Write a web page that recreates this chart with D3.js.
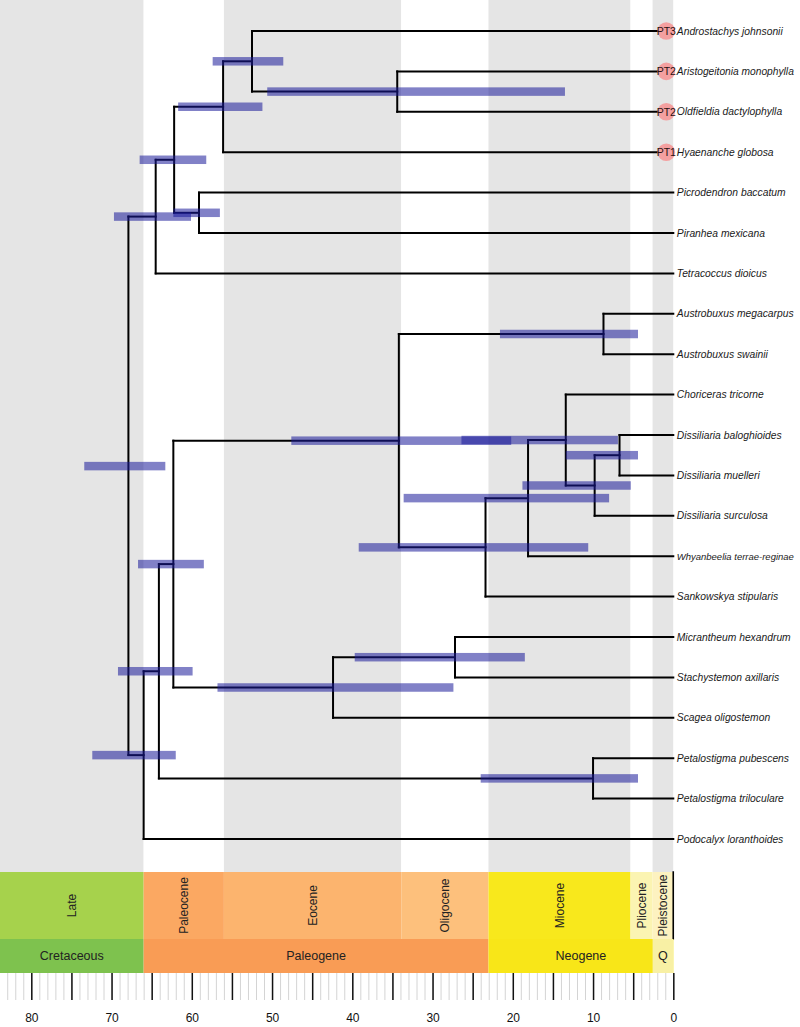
<!DOCTYPE html>
<html>
<head>
<meta charset="utf-8">
<script src="https://cdn.jsdelivr.net/npm/d3@7"></script>
<style>
  html, body { margin: 0; padding: 0; background: #ffffff; }
  svg { display: block; }
  text { font-family: "Liberation Sans", Arial, sans-serif; }
</style>
</head>
<body>
<div id="chart"></div>
<script>
// ---------------- DATA ----------------
const tipNames = [
  "Androstachys johnsonii", "Aristogeitonia monophylla", "Oldfieldia dactylophylla",
  "Hyaenanche globosa", "Picrodendron baccatum", "Piranhea mexicana", "Tetracoccus dioicus",
  "Austrobuxus megacarpus", "Austrobuxus swainii", "Choriceras tricorne",
  "Dissiliaria baloghioides", "Dissiliaria muelleri", "Dissiliaria surculosa",
  "Whyanbeelia terrae-reginae", "Sankowskya stipularis", "Micrantheum hexandrum",
  "Stachystemon axillaris", "Scagea oligostemon", "Petalostigma pubescens",
  "Petalostigma triloculare", "Podocalyx loranthoides"
];
const ptTips   = ["Androstachys johnsonii", "Aristogeitonia monophylla", "Oldfieldia dactylophylla", "Hyaenanche globosa"];
const ptLabels = ["PT3", "PT2", "PT2", "PT1"];

// internal nodes: name, children, age (Ma), 95% HPD (old, young)
const nodeNames = ["B","A","C","D","E","F","AUS","N1","N2","N3","N4","N5","N6","M1","M2","N7","P","N8","N9","R"];
const nodeChildren = [
  ["Aristogeitonia monophylla","Oldfieldia dactylophylla"],
  ["Androstachys johnsonii","B"],
  ["A","Hyaenanche globosa"],
  ["Picrodendron baccatum","Piranhea mexicana"],
  ["C","D"],
  ["E","Tetracoccus dioicus"],
  ["Austrobuxus megacarpus","Austrobuxus swainii"],
  ["Dissiliaria baloghioides","Dissiliaria muelleri"],
  ["N1","Dissiliaria surculosa"],
  ["Choriceras tricorne","N2"],
  ["N3","Whyanbeelia terrae-reginae"],
  ["N4","Sankowskya stipularis"],
  ["AUS","N5"],
  ["Micrantheum hexandrum","Stachystemon axillaris"],
  ["M1","Scagea oligostemon"],
  ["N6","M2"],
  ["Petalostigma pubescens","Petalostigma triloculare"],
  ["N7","P"],
  ["N8","Podocalyx loranthoides"],
  ["F","N9"]
];
const nodeAges = [34.4, 52.5, 56.1, 59.1, 62.2, 64.5, 8.7, 6.7, 9.8, 13.4, 18.1, 23.4, 34.2, 27.2, 42.4, 62.3, 10.0, 64.1, 66.0, 67.9];
const hpdOld   = [50.6, 57.4, 61.7, 62.3, 66.5, 69.7, 21.6, 13.4, 18.8, 26.4, 33.6, 39.2, 47.6, 39.7, 56.8, 66.7, 24.0, 69.2, 72.4, 73.4];
const hpdYoung = [13.5, 48.6, 51.2, 56.5, 58.2, 60.1,  4.4,  4.4,  5.3,  6.9,  8.0, 10.6, 20.2, 18.5, 27.4, 58.5,  4.4, 59.9, 62.0, 63.3];
const barRowOverride = { "R": 10.77 };   // root HPD bar row as drawn in the figure

// geological time scale
const epochNames  = ["Late", "Paleocene", "Eocene", "Oligocene", "Miocene", "Pliocene", "Pleistocene", "Holocene"];
const epochStart  = [100.5, 66.0, 56.0, 33.9, 23.03, 5.333, 2.58, 0.0117];
const epochEnd    = [66.0, 56.0, 33.9, 23.03, 5.333, 2.58, 0.0117, 0];
const epochColors = ["#A6D24C", "#FBA862", "#FCB46E", "#FDC07C", "#F8E81C", "#FBF4B2", "#FDF2C0", "#FEF2E0"];
const epochBand   = ["#E5E5E5", "#FFFFFF", "#E5E5E5", "#FFFFFF", "#E5E5E5", "#FFFFFF", "#E5E5E5", "#FFFFFF"];
const periodNames  = ["Cretaceous", "Paleogene", "Neogene", "Q"];
const periodStart  = [145.0, 66.0, 23.03, 2.58];
const periodEnd    = [66.0, 23.03, 0, 0];
const periodColors = ["#7EC24E", "#F99C55", "#F8E618", "#F8F0A4"];

const majorTicks = d3.range(0, 81, 5);
const minorTicks = d3.range(0, 84, 1);
const tickLabels = ["80", "70", "60", "50", "40", "30", "20", "10", "0"];

// ---------------- CHART ----------------
const W = 800, H = 1027;
const svg = d3.select("#chart").append("svg").attr("width", W).attr("height", H);

const x = d3.scaleLinear().domain([80, 0]).range([31.3, 673.3]);
const y = d3.scaleLinear().domain([0, 20]).range([31, 839]);

const plotBottom = 872, epochBottom = 939, periodBottom = 973;

// background bands
svg.append("g").selectAll("rect").data(epochNames).join("rect")
  .attr("x", (d, i) => Math.max(0, x(epochStart[i])))
  .attr("width", (d, i) => x(epochEnd[i]) - Math.max(0, x(epochStart[i])))
  .attr("y", 0).attr("height", plotBottom)
  .attr("fill", (d, i) => epochBand[i]);

// tree helpers
const tipIndex = new Map(tipNames.map((n, i) => [n, i]));
const nodeIndex = new Map(nodeNames.map((n, i) => [n, i]));
function rowOf(name) {
  if (tipIndex.has(name)) return tipIndex.get(name);
  const ch = nodeChildren[nodeIndex.get(name)];
  return d3.mean(ch, rowOf);
}
function ageOf(name) {
  return tipIndex.has(name) ? 0 : nodeAges[nodeIndex.get(name)];
}

const segs = [];
nodeNames.forEach((n, i) => {
  const ch = nodeChildren[i];
  const rows = ch.map(rowOf);
  segs.push({ x1: x(nodeAges[i]), x2: x(nodeAges[i]), y1: y(d3.min(rows)), y2: y(d3.max(rows)) });
  ch.forEach(c => {
    segs.push({ x1: x(nodeAges[i]), x2: x(ageOf(c)), y1: y(rowOf(c)), y2: y(rowOf(c)) });
  });
});

svg.append("g").selectAll("line").data(segs).join("line")
  .attr("x1", d => d.x1).attr("x2", d => d.x2)
  .attr("y1", d => d.y1).attr("y2", d => d.y2)
  .attr("stroke", "#000").attr("stroke-width", 2).attr("stroke-linecap", "square");

// HPD bars
const barH = 8.5;
svg.append("g").selectAll("rect").data(nodeNames).join("rect")
  .attr("x", (d, i) => x(hpdOld[i]))
  .attr("width", (d, i) => x(hpdYoung[i]) - x(hpdOld[i]))
  .attr("y", d => y(barRowOverride[d] !== undefined ? barRowOverride[d] : rowOf(d)) - barH / 2)
  .attr("height", barH)
  .attr("fill", "#1a1a99").attr("fill-opacity", 0.55);

// PT markers
const ptG = svg.append("g").selectAll("g").data(ptTips).join("g")
  .attr("transform", d => `translate(${x(0) - 7},${y(tipIndex.get(d))})`);
ptG.append("circle").attr("r", 8.8).attr("fill", "#F4A0A0");
ptG.append("text").text((d, i) => ptLabels[i])
  .attr("text-anchor", "middle").attr("dy", "0.36em")
  .attr("font-size", 10.5).attr("fill", "#2a1212");

// tip labels
const labelX = x(0) + 3.5;
svg.append("g").selectAll("text").data(tipNames).join("text")
  .attr("x", labelX).attr("y", d => y(tipIndex.get(d)))
  .attr("dy", "0.35em")
  .attr("font-size", 10.3).attr("font-style", "italic").attr("fill", "#1a1a1a")
  .text(d => d)
  .each(function () {
    const avail = W - labelX - 6;
    const len = this.getComputedTextLength();
    if (len > avail) {
      d3.select(this).attr("font-size", 10.3 * avail / len);
    }
  });

// geological epochs
const epG = svg.append("g");
epG.selectAll("rect").data(epochNames).join("rect")
  .attr("x", (d, i) => Math.max(0, x(epochStart[i])))
  .attr("width", (d, i) => x(epochEnd[i]) - Math.max(0, x(epochStart[i])))
  .attr("y", plotBottom).attr("height", epochBottom - plotBottom)
  .attr("fill", (d, i) => epochColors[i])
  .attr("stroke", d => d === "Holocene" ? "#000" : "none")
  .attr("stroke-width", 1.5);
epG.selectAll("text").data(epochNames.filter(d => d !== "Holocene")).join("text")
  .attr("transform", (d, i) => {
    const cx = (Math.max(0, x(epochStart[i])) + x(epochEnd[i])) / 2;
    return `translate(${cx},${(plotBottom + epochBottom) / 2}) rotate(-90)`;
  })
  .attr("text-anchor", "middle").attr("dy", "0.35em")
  .attr("font-size", 12).attr("fill", "#222")
  .text(d => d);

// periods
const peG = svg.append("g");
peG.selectAll("rect").data(periodNames).join("rect")
  .attr("x", (d, i) => Math.max(0, x(periodStart[i])))
  .attr("width", (d, i) => x(periodEnd[i]) - Math.max(0, x(periodStart[i])))
  .attr("y", epochBottom).attr("height", periodBottom - epochBottom)
  .attr("fill", (d, i) => periodColors[i]);
peG.selectAll("text").data(periodNames).join("text")
  .attr("x", (d, i) => (Math.max(0, x(periodStart[i])) + x(periodEnd[i])) / 2)
  .attr("y", (epochBottom + periodBottom) / 2)
  .attr("text-anchor", "middle").attr("dy", "0.35em")
  .attr("font-size", 12.5).attr("fill", "#222")
  .text(d => d);

// axis ticks
const minorAxis = d3.axisBottom(x).tickValues(minorTicks).tickSize(27).tickFormat("");
const gMin = svg.append("g").attr("transform", `translate(0,${periodBottom})`).call(minorAxis);
gMin.select(".domain").remove();
gMin.selectAll("line").attr("stroke", "#d4d4d4").attr("stroke-width", 1);

const majorAxis = d3.axisBottom(x).tickValues(majorTicks).tickSize(27).tickPadding(13)
  .tickFormat(d => tickLabels.includes(String(d)) ? String(d) : "");
const gMaj = svg.append("g").attr("transform", `translate(0,${periodBottom})`).call(majorAxis);
gMaj.select(".domain").remove();
gMaj.selectAll("line").attr("stroke", "#111").attr("stroke-width", 1.5);
gMaj.selectAll("text").attr("font-size", 12).attr("fill", "#111")
  .attr("font-family", "'Liberation Sans', Arial, sans-serif");
</script>
</body>
</html>
